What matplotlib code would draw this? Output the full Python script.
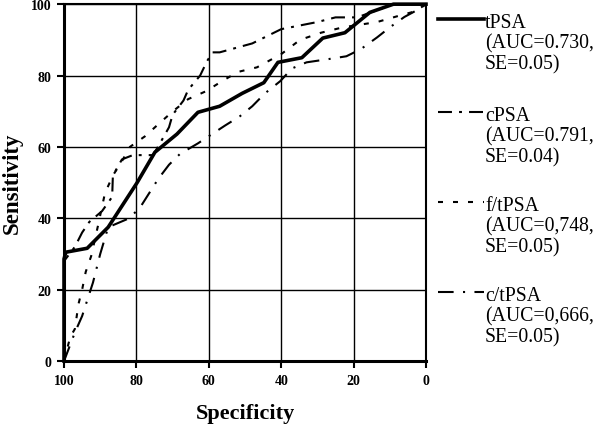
import matplotlib
matplotlib.use("Agg")
import matplotlib.pyplot as plt

# ROC curves (specificity %, sensitivity %)
tpsa_spec = [100, 100, 99.5, 93.6, 87.8, 79.8, 74.9, 68.8, 63, 57, 50.8, 44.8, 40.9, 34.3, 28.5, 22.4, 15.5, 9, 0]
tpsa_sens = [0, 28.6, 30.5, 31.6, 37.5, 50, 58.5, 63.6, 69.7, 71.4, 75, 78, 83.7, 85, 90.5, 92, 97.7, 100, 100]

cpsa_spec = [100, 100, 97, 95, 93, 89.5, 86.7, 86.5, 84, 81, 75.4, 73.5, 71, 70, 67, 65.7, 62.4, 60.5, 59, 57, 48, 40, 30, 25, 19, 9, 0]
cpsa_sens = [0, 28, 32, 36, 39, 42, 46, 52, 56.5, 57.7, 57.7, 61, 65.5, 69, 73, 76, 80, 84, 86.5, 86.5, 89, 93, 95, 96.3, 96.3, 100, 100]

ft_spec = [100, 98.3, 97, 96, 95, 94, 92.5, 90.6, 88.7, 86.5, 84, 81.8, 77.6, 73.8, 69.9, 65.7, 60.8, 56.4, 52, 46.7, 40, 34.8, 29, 23, 13.5, 8, 3, 0]
ft_sens = [0, 6.7, 9, 16, 20, 25, 29.4, 38, 47, 52, 56, 60, 63, 66.5, 70, 73.4, 75.6, 78.4, 81, 82.3, 86, 90, 92, 93.5, 95, 96.6, 98, 100]

ct_spec = [100, 97, 95, 93.6, 92, 90, 87.8, 82, 79, 74, 71, 68, 63, 60, 55.5, 51.4, 48, 44.5, 40.3, 37, 33, 27, 22, 18, 13.5, 10, 6, 2, 0]
ct_sens = [0, 8, 12.6, 17, 22, 30, 37.5, 40, 43, 51, 55, 58, 61, 63, 66, 68.6, 71.4, 75, 78.4, 82, 83.7, 84.6, 85.4, 87.4, 90.7, 93.5, 96.4, 98.6, 100]

labels = ["tPSA\n(AUC=0.730,\nSE=0.05)",
          "cPSA\n(AUC=0.791,\nSE=0.04)",
          "f/tPSA\n(AUC=0,748,\nSE=0.05)",
          "c/tPSA\n(AUC=0,666,\nSE=0.05)"]
ticks = [100, 80, 60, 40, 20, 0]

serif = ["Liberation Serif", "DejaVu Serif"]

fig = plt.figure(figsize=(6, 4.31), dpi=100)
ax = fig.add_axes([0.1067, 0.160, 0.6033, 0.828])

styles = [
    dict(color="black", lw=2.6, linestyle="-"),
    dict(color="black", lw=1.5, linestyle=(0, (6.7, 3.4, 1.4, 3.4))),
    dict(color="black", lw=1.5, linestyle=(0, (2.4, 4.8))),
    dict(color="black", lw=1.5, linestyle=(0, (7.5, 4.5, 1.0, 4.5))),
]
series = [(tpsa_spec, tpsa_sens), (cpsa_spec, cpsa_sens), (ft_spec, ft_sens), (ct_spec, ct_sens)]

for (xs, ys), st in zip(series, styles):
    ax.plot(xs, ys, clip_on=False, zorder=3, **st)

ax.set_xlim(100, 0)
ax.set_ylim(0, 100)
ax.set_xticks(ticks)
ax.set_yticks(ticks)
ax.grid(True, color="black", lw=1.0)
ax.set_axisbelow(True)
ax.tick_params(direction="out", length=5, width=1.5, color="black", pad=4)
for lab in ax.get_xticklabels() + ax.get_yticklabels():
    lab.set_fontfamily(serif)
    lab.set_fontweight("bold")
    lab.set_fontsize(10)
for side in ["left", "bottom"]:
    ax.spines[side].set_linewidth(2.2)
for side in ["top", "right"]:
    ax.spines[side].set_linewidth(1.5)

ax.set_xlabel("Specificity", fontfamily=serif, fontweight="bold", fontsize=16, labelpad=12)
ax.set_ylabel("Sensitivity", fontfamily=serif, fontweight="bold", fontsize=16.5, labelpad=6)

# legend drawn by hand to the right of the plot
tops = [20, 113, 203, 293]
for st, lab, ytop in zip(styles, labels, tops):
    yf = 1 - ytop / 431
    ax.plot([438 / 600, 484 / 600], [yf, yf], transform=fig.transFigure, clip_on=False, **st)
    fig.text(485 / 600, 1 - (ytop - 6) / 431, lab, fontfamily=serif, fontsize=14.2,
             va="top", ha="left", linespacing=1.12)

fig.savefig("out.png", dpi=100)
